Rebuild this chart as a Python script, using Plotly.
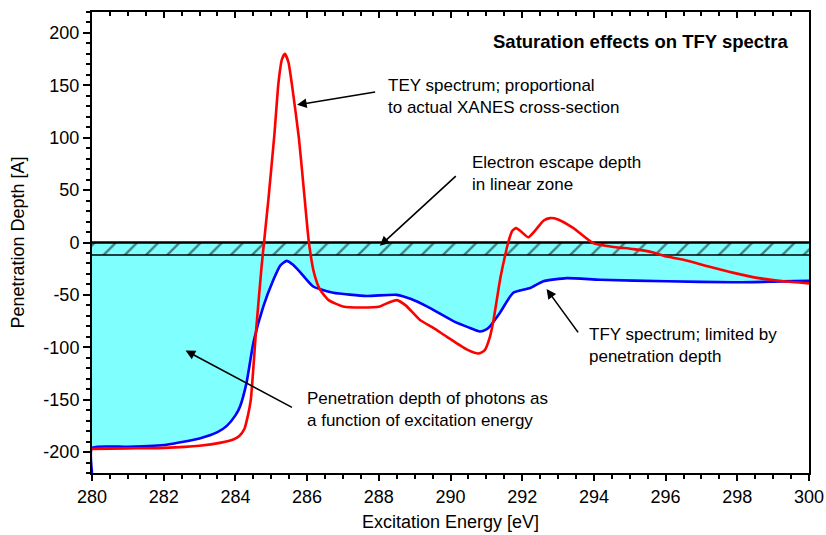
import plotly.graph_objects as go

# ---------------- data ----------------
tey_x = [280.0, 281.0, 282.0, 283.0, 283.6, 283.94, 284.1, 284.25, 284.35, 284.43,
         284.57, 284.73, 284.92, 285.09, 285.2, 285.3, 285.38, 285.48, 285.58, 285.77,
         285.91, 286.05, 286.2, 286.36, 286.6, 287.0, 287.5, 288.03, 288.3, 288.5,
         288.75, 289.15, 289.5, 289.9, 290.45, 290.78, 290.95, 291.1, 291.2, 291.38,
         291.5, 291.61, 291.72, 291.83, 291.95, 292.17, 292.4, 292.6, 292.78, 293.0,
         293.43, 293.98, 294.5, 295.1, 295.6, 296.03, 296.5, 297.2, 297.9, 298.6,
         299.3, 300.0]
tey_y = [-197, -196.5, -196, -194, -191, -188, -185, -178, -165, -150,
         -87, -23, 41, 104, 152, 175, 180, 172, 150, 100,
         50, 0, -30, -45, -55, -61, -62, -61, -57, -55,
         -60, -74, -81, -90, -102, -106, -103, -90, -74, -36,
         -16, 0, 11, 13.7, 11, 5, 13, 21, 23.3, 22,
         13.7, -0.6, -4, -6.3, -9, -13.4, -16.5, -23, -29, -34,
         -37, -39]

tfy_x = [280.0, 280.0, 281.0, 282.08, 283.0, 283.5, 283.76, 284.0, 284.13, 284.31,
         284.5, 284.78, 285.06, 285.25, 285.43, 285.6, 285.8, 286.17, 286.73, 287.66,
         288.5, 288.9, 289.34, 290.08, 290.5, 290.82, 291.0, 291.1, 291.38, 291.75,
         292.22, 292.59, 293.24, 294.17, 296.03, 297.9, 300.0]
tfy_y = [-220, -196, -195, -193, -187, -181, -175, -165, -156.5, -134,
         -96, -61, -35.6, -22, -17.5, -21, -28, -42, -48, -51,
         -50, -54, -61, -75, -81, -85, -83, -80, -67, -48,
         -43.5, -37, -34, -35.6, -37, -38, -36.6]

x_ticks = [280, 282, 284, 286, 288, 290, 292, 294, 296, 298, 300]
x_tick_labels = ["280", "282", "284", "286", "288", "290", "292", "294", "296", "298", "300"]
y_ticks = [-200, -150, -100, -50, 0, 50, 100, 150, 200]
y_tick_labels = ["-200", "-150", "-100", "-50", "0", "50", "100", "150", "200"]

escape_top = 0
escape_depth = -12
x_range = [280, 300]
y_range = [-220, 220]

FONT = "Liberation Sans, Arial, sans-serif"
CYAN = "#80FFFF"

fig = go.Figure()

# cyan penetration-depth region (between escape depth and TFY curve)
fig.add_trace(go.Scatter(
    x=tfy_x + [x_range[1], x_range[0]],
    y=tfy_y + [escape_depth, escape_depth],
    fill="toself", fillcolor=CYAN, mode="none", hoverinfo="skip", showlegend=False))

# hatched escape-depth band
fig.add_trace(go.Scatter(
    x=[x_range[0], x_range[1], x_range[1], x_range[0], x_range[0]],
    y=[escape_top, escape_top, escape_depth, escape_depth, escape_top],
    fill="toself", mode="none", fillcolor=CYAN,
    fillpattern=dict(shape="/", fgcolor="black", bgcolor=CYAN, size=15, solidity=0.15),
    hoverinfo="skip", showlegend=False))

# band border lines
fig.add_trace(go.Scatter(x=x_range, y=[escape_top, escape_top], mode="lines",
                         line=dict(color="black", width=2.5), showlegend=False))
fig.add_trace(go.Scatter(x=x_range, y=[escape_depth, escape_depth], mode="lines",
                         line=dict(color="black", width=1.5), showlegend=False))

# TFY (blue) and TEY (red)
fig.add_trace(go.Scatter(x=tfy_x, y=tfy_y, mode="lines",
                         line=dict(color="#0000FF", width=2.6, shape="spline", smoothing=0.5),
                         showlegend=False))
fig.add_trace(go.Scatter(x=tey_x, y=tey_y, mode="lines",
                         line=dict(color="#FF0000", width=2.6, shape="spline", smoothing=0.5),
                         showlegend=False))

# invisible trace for top axis
fig.add_trace(go.Scatter(x=x_range, y=[None, None], xaxis="x2", mode="lines",
                         showlegend=False, hoverinfo="skip"))

tickfont = dict(family=FONT, size=18, color="black")
fig.update_layout(
    width=826, height=535,
    margin=dict(l=92, r=17, t=12, b=62, autoexpand=False),
    paper_bgcolor="white", plot_bgcolor="white",
    font=dict(family=FONT, size=17, color="black"),
    xaxis=dict(range=x_range, tickvals=x_ticks, ticktext=x_tick_labels, ticks="outside",
               ticklen=6, tickwidth=1.5, automargin=False,
               tickcolor="black", showline=True, linewidth=2, linecolor="black", mirror=True,
               showgrid=False, zeroline=False, tickfont=tickfont,
               minor=dict(dtick=0.5, tick0=280, ticks="outside", ticklen=3.5, tickwidth=1.5,
                          tickcolor="black"),
               title=dict(text="Excitation Energy [eV]", font=dict(family=FONT, size=18), standoff=10)),
    xaxis2=dict(range=x_range, overlaying="x", side="top", tickvals=x_ticks, ticks="inside",
                ticklen=6, tickwidth=1.5, tickcolor="black", showticklabels=False,
                showgrid=False, zeroline=False, showline=False, automargin=False,
                minor=dict(dtick=0.5, tick0=280, ticks="inside", ticklen=3.5, tickwidth=1.5,
                           tickcolor="black")),
    yaxis=dict(range=y_range, tickvals=y_ticks, ticktext=y_tick_labels, ticks="outside",
               ticklen=7, tickwidth=1.5, automargin=False,
               tickcolor="black", showline=True, linewidth=2, linecolor="black", mirror=True,
               showgrid=False, zeroline=False, tickfont=tickfont,
               minor=dict(dtick=10, tick0=0, ticks="outside", ticklen=4, tickwidth=1.5,
                          tickcolor="black"),
               title=dict(text="Penetration Depth [A]", font=dict(family=FONT, size=18), standoff=14)),
)

ann_font = dict(family=FONT, size=17, color="black")
notes = [
    ("TEY spectrum; proportional<br>to actual XANES cross-section", 288.2, 139.1),
    ("Electron escape depth<br>in linear zone", 290.55, 65.6),
    ("TFY spectrum; limited by<br>penetration depth", 293.8, -98.6),
    ("Penetration depth of photons as<br>a function of excitation energy", 285.95, -159.4),
]
for txt, x, y in notes:
    fig.add_annotation(x=x, y=y, text=txt, showarrow=False, xanchor="left", yanchor="middle",
                       align="left", font=ann_font)

arrows = [
    (285.72, 131.4, 287.94, 143.9),
    (288.03, -3.2, 290.19, 64.6),
    (292.68, -44.5, 293.59, -87.2),
    (282.61, -103.1, 285.62, -158.1),
]
for x, y, ax, ay in arrows:
    fig.add_annotation(x=x, y=y, ax=ax, ay=ay, xref="x", yref="y", axref="x", ayref="y",
                       text="", showarrow=True, arrowhead=2, arrowsize=1.2, arrowwidth=1.6,
                       arrowcolor="black")

fig.add_annotation(x=299.47, y=191.6, text="<b>Saturation effects on TFY spectra</b>",
                   showarrow=False, xanchor="right", yanchor="middle",
                   font=dict(family=FONT, size=18.5, color="black"))

fig.write_html("out.html")
